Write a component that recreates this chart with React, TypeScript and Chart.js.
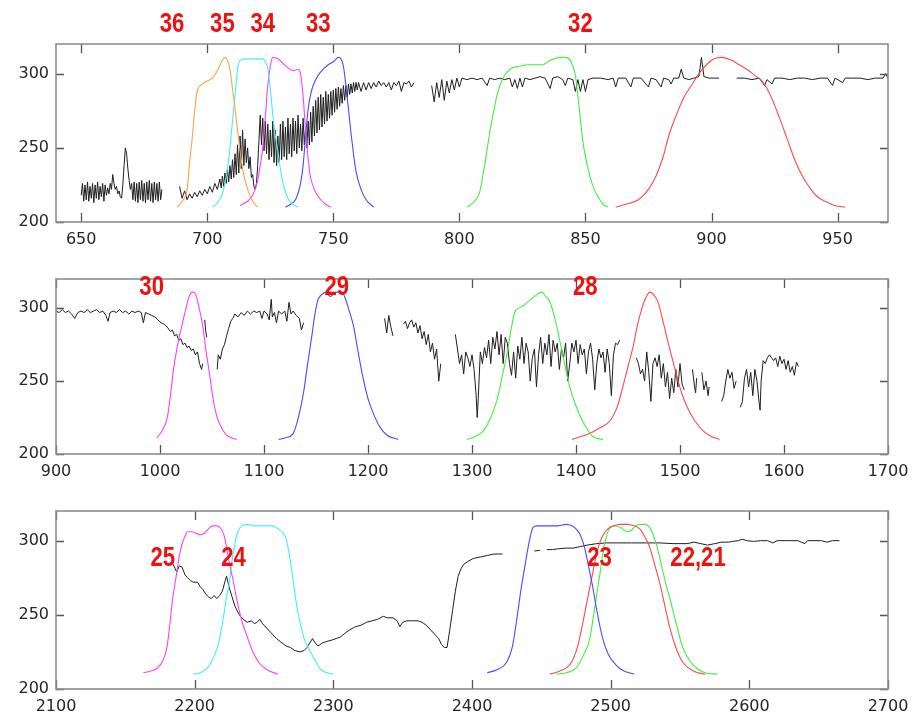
import React, { useEffect, useRef } from 'react';
import { Chart, registerables } from 'chart.js';

Chart.register(...registerables);

type Pt = [number, number | null];

// ---------------- Panel 1 (650-970) ----------------
const p1Spectrum: Pt[] = [
  [650, 218], [650.5, 226], [651, 214], [651.5, 225], [652, 215], [652.5, 227], [653, 214], [653.5, 224], [654, 216], [654.5, 226],
  [655, 213], [655.5, 225], [656, 216], [656.5, 227], [657, 215], [657.5, 224], [658, 217], [658.5, 226], [659, 214], [659.5, 225],
  [660, 218], [660.5, 223], [661, 219], [661.5, 226], [662, 222], [662.5, 232], [663, 226], [663.5, 222], [664, 224], [664.5, 219],
  [665, 221], [665.5, 217], [666, 216], [666.5, 225], [667, 238], [667.5, 250], [668, 246], [668.5, 236], [669, 228], [669.5, 222],
  [670, 226], [670.5, 215], [671, 227], [671.5, 214], [672, 226], [672.5, 213], [673, 227], [673.5, 215], [674, 228], [674.5, 214],
  [675, 226], [675.5, 213], [676, 227], [676.5, 215], [677, 228], [677.5, 214], [678, 226], [678.5, 213], [679, 227], [679.5, 215],
  [680, 226], [680.5, 214], [681, 227], [681.5, 215], [682, 222], [685, null],
  [689, 224], [690, 216], [691, 221], [692, 215], [693, 219], [694, 216], [695, 220], [696, 217], [697, 221], [698, 218],
  [699, 222], [700, 219], [701, 224], [702, 220], [703, 226], [704, 222],
  [705, 229], [705.5, 223], [706, 231], [706.5, 224], [707, 233], [707.5, 226], [708, 236], [708.5, 227], [709, 238], [709.5, 229],
  [710, 242], [710.5, 230], [711, 246], [711.5, 232], [712, 252], [712.5, 233], [713, 258], [713.5, 236], [714, 262], [714.5, 238],
  [715, 256], [715.5, 240], [716, 250], [716.5, 236], [717, 244], [717.5, 230], [718, 232], [718.5, 224], [719, 222], [719.5, 226],
  [720, 238], [720.5, 255], [721, 272], [721.5, 252], [722, 270], [722.5, 248], [723, 268], [723.5, 246], [724, 266], [724.5, 242],
  [725, 262], [725.5, 244], [726, 268], [726.5, 240], [727, 262], [727.5, 238], [728, 258], [728.5, 240], [729, 266], [729.5, 242],
  [730, 268], [730.5, 244], [731, 264], [731.5, 242], [732, 270], [732.5, 246], [733, 266], [733.5, 244], [734, 270], [734.5, 248],
  [735, 268], [735.5, 246], [736, 272], [736.5, 250], [737, 266], [737.5, 248], [738, 270], [738.5, 252], [739, 264], [739.5, 250],
  [740, 268], [740.5, 252], [741, 274], [741.5, 254], [742, 278], [742.5, 258], [743, 282], [743.5, 260], [744, 284], [744.5, 262],
  [745, 286], [745.5, 264], [746, 284], [746.5, 266], [747, 288], [747.5, 268], [748, 286], [748.5, 270], [749, 288], [749.5, 272],
  [750, 289], [750.5, 274], [751, 290], [751.5, 276], [752, 291], [752.5, 278], [753, 290], [753.5, 280], [754, 292], [754.5, 282],
  [755, 292], [755.5, 284], [756, 293], [756.5, 286], [757, 293], [757.5, 287], [758, 294], [758.5, 288], [759, 294], [759.5, 289],
  [760, 294], [761, 288], [762, 294], [763, 289], [764, 294], [765, 290], [766, 294], [767, 291], [768, 295], [769, 292],
  [770, 294], [771, 291], [772, 294], [773, 289], [774, 294], [775, 292], [776, 295], [777, 288], [778, 294], [779, 293],
  [780, 295], [781, 291], [782, 294], [785, null],
  [789, 292], [790, 281], [791, 294], [792, 284], [793, 296], [794, 282], [795, 295], [796, 287], [797, 296], [798, 289],
  [799, 297], [800, 291], [801, 297], [803, 296], [805, 297], [807, 296], [809, 297], [811, 292], [812, 297], [814, 296],
  [816, 297], [818, 296], [820, 297], [821, 291], [822, 296], [823, 290], [824, 297], [825, 291], [826, 297], [828, 296],
  [830, 297], [832, 298], [834, 297], [836, 290], [837, 297], [839, 298], [841, 296], [842, 292], [843, 297], [845, 296],
  [846, 288], [847, 296], [848, 288], [849, 296], [850, 288], [851, 296], [853, 297], [856, 297], [859, 296], [861, 297],
  [862, 291], [863, 297], [866, 297], [868, 291], [869, 297], [872, 297], [875, 291], [876, 297], [878, 296], [880, 291],
  [881, 297], [883, 296], [884, 293], [885, 297], [887, 297], [888, 303], [889, 297], [891, 296], [893, 297], [895, 298],
  [896, 311], [897, 298], [899, 297], [901, 297], [903, 297], [906, null],
  [910, 297], [913, 297], [916, 296], [919, 297], [921, 292], [922, 296], [924, 293], [925, 297], [928, 297], [931, 296],
  [934, 297], [937, 297], [940, 296], [943, 297], [946, 297], [948, 292], [949, 297], [952, 294], [953, 297], [956, 297],
  [959, 297], [962, 296], [965, 297], [968, 297], [969, 300], [970, 297],
];
const p1Band36: Pt[] = [[688, 210], [690, 214], [692, 222], [693, 240], [694, 256], [695, 275], [696, 288], [698, 293], [700, 295], [702, 297], [704, 302], [706, 309], [707, 311], [708, 309], [709, 303], [710, 290], [711, 277], [712, 262], [714, 236], [716, 222], [718, 214], [720, 210]];
const p1Band35: Pt[] = [[702, 210], [704, 213], [706, 219], [708, 236], [709, 250], [710, 268], [711, 285], [712, 303], [713, 309], [715, 310], [720, 310], [722, 310], [723, 308], [724, 304], [725, 290], [726, 272], [727, 258], [728, 248], [729, 236], [730, 226], [732, 216], [734, 212], [736, 210]];
const p1Band34: Pt[] = [[713, 211], [716, 214], [718, 218], [720, 228], [721, 238], [722, 250], [723, 270], [724, 292], [725, 305], [726, 311], [728, 310], [730, 307], [732, 304], [734, 302], [736, 303], [737, 300], [738, 285], [739, 262], [740, 243], [741, 230], [743, 220], [745, 215], [747, 212], [749, 210]];
const p1Band33: Pt[] = [[731, 210], [733, 212], [735, 215], [737, 226], [738, 238], [739, 258], [740, 276], [741, 286], [742, 292], [744, 299], [746, 303], [748, 306], [750, 308], [752, 311], [753, 310], [754, 305], [755, 292], [756, 276], [757, 260], [758, 246], [759, 234], [761, 222], [763, 215], [766, 210]];
const p1Band32: Pt[] = [[803, 210], [806, 214], [808, 220], [810, 238], [812, 260], [814, 278], [815, 286], [817, 296], [820, 303], [824, 305], [828, 306], [833, 306], [836, 309], [840, 311], [842, 311], [844, 309], [845, 305], [846, 299], [847, 285], [848, 269], [849, 254], [851, 236], [853, 224], [855, 217], [857, 212], [859, 210]];
const p1Band31: Pt[] = [[862, 210], [866, 212], [871, 215], [875, 222], [878, 231], [881, 245], [883, 258], [886, 272], [889, 284], [892, 292], [895, 300], [898, 306], [901, 310], [904, 311], [908, 309], [911, 306], [914, 303], [917, 299], [920, 295], [922, 290], [924, 283], [927, 270], [930, 256], [933, 242], [936, 231], [939, 223], [942, 217], [945, 214], [949, 211], [953, 210]];
const p1LabelText = ['36', '35', '34', '33', '32'];
const p1LabelAt = [686, 706, 722, 744, 848];

// ---------------- Panel 2 (900-1700) ----------------
const p2Spectrum: Pt[] = [
  [900, 298], [903, 297], [906, 299], [909, 297], [912, 298], [915, 296], [918, 293], [921, 297], [924, 298], [927, 297],
  [930, 299], [933, 297], [936, 298], [939, 299], [942, 297], [945, 298], [948, 295], [950, 291], [952, 297], [955, 298],
  [958, 297], [961, 299], [964, 297], [967, 298], [970, 296], [973, 298], [976, 297], [979, 298], [982, 297], [984, 290],
  [986, 297], [989, 296], [992, 295], [995, 294], [998, 292], [1001, 290], [1004, 289], [1007, 287], [1010, 284], [1012, 285],
  [1014, 281], [1016, 282], [1018, 278], [1020, 279], [1022, 275], [1024, 276], [1026, 273], [1028, 274], [1030, 271], [1032, 272],
  [1034, 268], [1036, 270], [1038, 262], [1040, 258], [1041, 262], [1042, null],
  [1043, 292], [1044, 284], [1045, 280], [1050, null],
  [1055, 258], [1056, 268], [1058, 265], [1060, 272], [1062, 275], [1064, 281], [1066, 286], [1068, 291], [1070, 293], [1072, 296],
  [1075, 294], [1078, 297], [1081, 295], [1084, 298], [1087, 296], [1090, 298], [1093, 297], [1096, 298], [1098, 293], [1100, 298],
  [1103, 296], [1105, 292], [1107, 306], [1108, 294], [1110, 297], [1112, 290], [1114, 298], [1117, 296], [1120, 298], [1122, 291],
  [1124, 304], [1126, 296], [1128, 298], [1131, 295], [1134, 293], [1136, 285], [1138, 290], [1150, null],
  [1216, 293], [1218, 283], [1220, 295], [1222, 287], [1224, 281], [1228, null],
  [1234, 289], [1236, 291], [1238, 286], [1240, 290], [1242, 292], [1244, 287], [1246, 290], [1248, 283], [1250, 288], [1252, 279],
  [1254, 284], [1256, 275], [1258, 282], [1260, 270], [1262, 276], [1264, 265], [1266, 272], [1268, 250], [1270, 262], [1276, null],
  [1284, 282], [1286, 272], [1288, 262], [1290, 268], [1292, 255], [1294, 270], [1296, 266], [1298, 260], [1300, 268], [1302, 258],
  [1304, 240], [1305, 225], [1306, 238], [1308, 270], [1310, 262], [1312, 273], [1314, 266], [1316, 278], [1318, 262], [1320, 280],
  [1322, 272], [1324, 284], [1326, 268], [1328, 282], [1330, 262], [1332, 280], [1334, 276], [1336, 262], [1338, 254], [1340, 270],
  [1342, 252], [1344, 274], [1346, 265], [1348, 280], [1350, 262], [1352, 276], [1354, 270], [1356, 250], [1358, 266], [1360, 272],
  [1362, 246], [1364, 268], [1366, 280], [1368, 262], [1370, 276], [1372, 268], [1374, 282], [1376, 260], [1378, 278], [1380, 270],
  [1382, 276], [1384, 258], [1386, 272], [1388, 266], [1390, 276], [1392, 250], [1394, 262], [1396, 276], [1398, 270], [1400, 278],
  [1402, 262], [1404, 275], [1406, 268], [1408, 272], [1410, 255], [1412, 270], [1414, 276], [1416, 265], [1418, 244], [1420, 262],
  [1422, 272], [1424, 266], [1426, 270], [1428, 256], [1430, 272], [1432, 262], [1434, 240], [1436, 268], [1438, 276], [1440, 275],
  [1442, 278], [1450, null],
  [1458, 266], [1460, 262], [1462, 255], [1464, 258], [1466, 250], [1468, 270], [1470, 256], [1472, 236], [1474, 262], [1476, 266],
  [1478, 260], [1480, 268], [1482, 252], [1484, 262], [1486, 246], [1488, 256], [1490, 238], [1492, 252], [1494, 242], [1496, 258],
  [1498, 246], [1500, 262], [1502, 248], [1504, 244], [1508, null],
  [1512, 258], [1514, 246], [1515, 242], [1516, 252], [1518, null],
  [1521, 256], [1523, 244], [1525, 250], [1527, 240], [1528, 246], [1534, null],
  [1540, 236], [1542, 240], [1544, 250], [1546, 258], [1548, 252], [1550, 256], [1552, 245], [1554, 250], [1556, null],
  [1558, 232], [1560, 236], [1562, 252], [1564, 258], [1566, 246], [1568, 256], [1570, 240], [1572, 258], [1574, 250], [1576, 236],
  [1577, 230], [1578, 250], [1580, 264], [1582, 262], [1584, 266], [1586, 268], [1588, 266], [1590, 264], [1592, 266], [1594, 260],
  [1596, 267], [1598, 262], [1600, 265], [1602, 258], [1604, 264], [1606, 256], [1608, 260], [1610, 254], [1612, 263], [1614, 260],
];
const p2Band30: Pt[] = [[997, 211], [1002, 216], [1007, 225], [1010, 240], [1013, 258], [1017, 275], [1021, 288], [1025, 300], [1028, 308], [1031, 311], [1034, 310], [1037, 302], [1041, 288], [1044, 272], [1048, 253], [1051, 238], [1055, 225], [1060, 217], [1064, 213], [1069, 211], [1074, 210]];
const p2Band29: Pt[] = [[1114, 210], [1120, 211], [1128, 214], [1133, 225], [1138, 242], [1142, 262], [1146, 281], [1149, 296], [1152, 306], [1155, 309], [1159, 311], [1162, 309], [1164, 308], [1167, 310], [1170, 311], [1175, 311], [1178, 307], [1182, 298], [1186, 288], [1190, 272], [1195, 253], [1200, 238], [1205, 228], [1211, 219], [1218, 213], [1229, 210]];
const p2Band28: Pt[] = [[1295, 210], [1303, 212], [1311, 216], [1318, 225], [1324, 237], [1329, 253], [1334, 270], [1338, 287], [1341, 297], [1345, 300], [1350, 302], [1355, 305], [1360, 308], [1367, 311], [1371, 308], [1375, 304], [1380, 292], [1384, 279], [1389, 262], [1394, 246], [1399, 235], [1404, 226], [1410, 218], [1416, 212], [1426, 210]];
const p2Band27: Pt[] = [[1396, 210], [1405, 212], [1413, 214], [1423, 218], [1433, 223], [1440, 233], [1445, 246], [1450, 260], [1455, 274], [1459, 288], [1463, 299], [1467, 307], [1471, 311], [1475, 309], [1479, 304], [1483, 293], [1487, 281], [1492, 267], [1497, 253], [1502, 241], [1507, 232], [1514, 223], [1522, 216], [1530, 212], [1538, 210]];
const p2LabelText = ['30', '29', '28'];
const p2LabelAt = [992, 1170, 1409];

// ---------------- Panel 3 (2100-2700) ----------------
const p3Spectrum: Pt[] = [
  [2184, 285], [2186, 281], [2187, 279], [2189, 283], [2191, 282], [2193, 277], [2195, 275], [2197, 273], [2199, 272], [2202, 272],
  [2204, 269], [2206, 267], [2208, 264], [2210, 262], [2212, 261], [2214, 263], [2216, 261], [2218, 263], [2220, 266], [2222, 273],
  [2223, 276], [2224, 272], [2225, 268], [2227, 262], [2229, 256], [2231, 252], [2233, 249], [2235, 247], [2238, 245], [2241, 246],
  [2243, 244], [2245, 245], [2247, 247], [2249, 244], [2252, 241], [2255, 238], [2259, 234], [2263, 231], [2266, 229], [2269, 228],
  [2272, 226], [2276, 225], [2279, 226], [2281, 228], [2283, 231], [2285, 234], [2287, 231], [2289, 229], [2292, 231], [2295, 232],
  [2299, 233], [2302, 234], [2305, 235], [2309, 238], [2312, 240], [2316, 242], [2320, 243], [2324, 245], [2328, 246], [2332, 247],
  [2336, 249], [2339, 248], [2343, 248], [2346, 246], [2348, 242], [2350, 245], [2353, 246], [2357, 246], [2361, 246], [2364, 245],
  [2367, 243], [2370, 240], [2373, 237], [2376, 234], [2378, 230], [2380, 228], [2382, 228], [2384, 240], [2386, 253], [2388, 266],
  [2390, 276], [2392, 281], [2394, 284], [2397, 286], [2401, 288], [2406, 289], [2411, 290], [2416, 291], [2422, 291], [2430, null],
  [2445, 293], [2449, 293.5], [2451, null],
  [2454, 294], [2458, 294], [2462, 294.5], [2468, 295], [2473, 295], [2478, 296], [2483, 297], [2490, 298], [2497, 298.5], [2505, 298.5],
  [2515, 298.5], [2525, 298.5], [2535, 298.5], [2545, 298], [2555, 298], [2560, 299], [2565, 298], [2570, 297], [2575, 298], [2580, 299],
  [2585, 299], [2588, 299.5], [2592, 300], [2595, 301], [2598, 300], [2603, 299.5], [2608, 300], [2613, 300], [2617, 298.5], [2620, 300],
  [2625, 300], [2630, 300], [2635, 300], [2640, 298], [2642, 300], [2648, 300], [2652, 300], [2656, 299], [2660, 300], [2665, 300],
];
const p3Band25: Pt[] = [[2163, 211], [2168, 212], [2173, 214], [2177, 219], [2180, 228], [2182, 243], [2184, 260], [2187, 278], [2189, 290], [2191, 298], [2193, 303], [2195, 306], [2198, 306], [2201, 305], [2204, 304], [2207, 305], [2210, 308], [2213, 310], [2216, 310], [2219, 308], [2221, 304], [2223, 296], [2225, 285], [2228, 272], [2230, 262], [2234, 246], [2238, 235], [2242, 225], [2247, 217], [2252, 213], [2260, 210]];
const p3Band24: Pt[] = [[2199, 210], [2204, 211], [2209, 214], [2213, 220], [2216, 227], [2218, 234], [2221, 250], [2223, 262], [2225, 272], [2227, 287], [2229, 298], [2231, 306], [2234, 310], [2238, 311], [2243, 310], [2250, 310], [2256, 310], [2260, 308], [2264, 305], [2266, 301], [2268, 292], [2270, 280], [2272, 266], [2274, 254], [2276, 245], [2279, 234], [2283, 226], [2287, 219], [2291, 213], [2300, 210]];
const p3Band23: Pt[] = [[2411, 211], [2418, 213], [2425, 218], [2429, 228], [2432, 245], [2435, 265], [2438, 282], [2441, 298], [2444, 309], [2447, 310], [2456, 310], [2462, 310], [2468, 311], [2472, 310], [2475, 308], [2478, 304], [2481, 296], [2484, 283], [2487, 269], [2490, 253], [2494, 235], [2498, 224], [2504, 216], [2510, 212], [2517, 210]];
const p3Band22: Pt[] = [[2456, 210], [2463, 212], [2471, 217], [2476, 228], [2480, 245], [2484, 264], [2487, 278], [2490, 292], [2494, 303], [2498, 308], [2502, 310], [2507, 311], [2512, 311], [2517, 310], [2521, 308], [2525, 302], [2528, 296], [2532, 283], [2536, 269], [2540, 252], [2543, 240], [2547, 228], [2552, 218], [2560, 212], [2568, 210]];
const p3Band21: Pt[] = [[2461, 210], [2468, 211], [2475, 214], [2480, 222], [2485, 234], [2488, 252], [2492, 276], [2495, 295], [2499, 308], [2503, 310], [2507, 309], [2512, 306], [2515, 307], [2518, 310], [2522, 311], [2525, 311], [2528, 309], [2531, 303], [2534, 294], [2537, 282], [2540, 270], [2543, 260], [2547, 245], [2552, 228], [2557, 219], [2562, 214], [2568, 211], [2577, 210]];
const p3LabelText = ['25', '24', '23', '22,21'];
const p3LabelAt = [2177, 2228, 2492, 2563];

// ---------------- styling ----------------
const C_ORANGE = '#ffa448';
const C_CYAN = '#3ff2f2';
const C_MAGENTA = '#ff40ff';
const C_BLUE = '#4a4aff';
const C_GREEN = '#44ee44';
const C_RED = '#ff4a4a';
const C_SPEC = '#1e1e1e';

const toXY = (pts: Pt[]) => pts.map(([x, y]) => ({ x, y }));

const framePlugin = {
  id: 'frame',
  afterDraw(chart: any, _args: any, opts: any) {
    const { ctx, chartArea: a, scales } = chart;
    const xs = scales.x;
    const ys = scales.y;
    ctx.save();
    ctx.strokeStyle = '#555555';
    ctx.lineWidth = 1.3;
    ctx.beginPath();
    xs.ticks.forEach((t: any) => {
      const px = Math.round(xs.getPixelForValue(t.value)) + 0.5;
      ctx.moveTo(px, a.bottom);
      ctx.lineTo(px, a.bottom - 9);
      ctx.moveTo(px, a.top);
      ctx.lineTo(px, a.top + 9);
    });
    ys.ticks.forEach((t: any) => {
      const py = Math.round(ys.getPixelForValue(t.value)) + 0.5;
      ctx.moveTo(a.left, py);
      ctx.lineTo(a.left + 8, py);
      ctx.moveTo(a.right, py);
      ctx.lineTo(a.right - 8, py);
    });
    ctx.stroke();
    ctx.strokeStyle = '#8e8e8e';
    ctx.lineWidth = 1.6;
    ctx.strokeRect(a.left, a.top, a.right - a.left, a.bottom - a.top);

    const texts: string[] = opts.texts || [];
    const at: number[] = opts.at || [];
    const ly = ys.getPixelForValue(opts.labelY);
    ctx.fillStyle = '#ee1111';
    ctx.font = 'bold 27px "Liberation Sans", Arial, sans-serif';
    ctx.textAlign = 'center';
    ctx.textBaseline = 'middle';
    texts.forEach((t, i) => {
      const lx = xs.getPixelForValue(at[i]);
      ctx.save();
      ctx.translate(lx, ly);
      ctx.scale(0.82, 1);
      ctx.fillText(t, 0, 0);
      ctx.restore();
    });
    ctx.restore();
  },
};

interface PanelCfg {
  spectrum: Pt[];
  bands: { pts: Pt[]; color: string }[];
  xMin: number;
  xMax: number;
  xStep: number;
  padTop: number;
  xAxisH: number;
  texts: string[];
  at: number[];
  labelY: number;
}

function makeChart(canvas: HTMLCanvasElement, p: PanelCfg) {
  const tickFont = { family: '"DejaVu Sans", sans-serif', size: 16 };
  const datasets: any[] = p.bands.map((b) => ({
    data: toXY(b.pts),
    borderColor: b.color,
    borderWidth: 1.1,
    pointRadius: 0,
    cubicInterpolationMode: 'monotone',
    fill: false,
    order: 0,
  }));
  datasets.push({
    data: toXY(p.spectrum),
    borderColor: C_SPEC,
    borderWidth: 1,
    pointRadius: 0,
    tension: 0,
    spanGaps: false,
    fill: false,
    order: 1,
  });
  return new Chart(canvas, {
    type: 'line',
    data: { datasets },
    plugins: [framePlugin as any],
    options: {
      animation: false,
      responsive: false,
      maintainAspectRatio: false,
      layout: { padding: { top: p.padTop, right: 24, left: 0, bottom: 0 } },
      plugins: {
        legend: { display: false },
        tooltip: { enabled: false },
        frame: { texts: p.texts, at: p.at, labelY: p.labelY },
      } as any,
      scales: {
        x: {
          type: 'linear',
          min: p.xMin,
          max: p.xMax,
          grid: { display: false, drawTicks: false },
          border: { display: false },
          ticks: {
            stepSize: p.xStep,
            includeBounds: false,
            autoSkip: false,
            maxRotation: 0,
            padding: 8,
            color: '#262626',
            font: tickFont,
            callback: (v: any) => String(v),
          },
          afterFit: (s: any) => {
            s.height = p.xAxisH;
            s.paddingLeft = 0;
            s.paddingRight = 0;
          },
        },
        y: {
          type: 'linear',
          min: 200,
          max: 320,
          grid: { display: false, drawTicks: false },
          border: { display: false },
          ticks: {
            stepSize: 50,
            includeBounds: false,
            padding: 7,
            color: '#262626',
            font: tickFont,
            callback: (v: any) => String(v),
          },
          afterFit: (s: any) => {
            s.width = 56;
            s.paddingTop = 0;
            s.paddingBottom = 0;
          },
        },
      } as any,
    },
  });
}

const panels: PanelCfg[] = [
  {
    spectrum: p1Spectrum,
    bands: [
      { pts: p1Band36, color: C_ORANGE },
      { pts: p1Band35, color: C_CYAN },
      { pts: p1Band34, color: C_MAGENTA },
      { pts: p1Band33, color: C_BLUE },
      { pts: p1Band32, color: C_GREEN },
      { pts: p1Band31, color: C_RED },
    ],
    xMin: 640, xMax: 970, xStep: 50, padTop: 44, xAxisH: 30,
    texts: p1LabelText, at: p1LabelAt, labelY: 333,
  },
  {
    spectrum: p2Spectrum,
    bands: [
      { pts: p2Band30, color: C_MAGENTA },
      { pts: p2Band29, color: C_BLUE },
      { pts: p2Band28, color: C_GREEN },
      { pts: p2Band27, color: C_RED },
    ],
    xMin: 900, xMax: 1700, xStep: 100, padTop: 27, xAxisH: 28,
    texts: p2LabelText, at: p2LabelAt, labelY: 314,
  },
  {
    spectrum: p3Spectrum,
    bands: [
      { pts: p3Band25, color: C_MAGENTA },
      { pts: p3Band24, color: C_CYAN },
      { pts: p3Band23, color: C_BLUE },
      { pts: p3Band22, color: C_RED },
      { pts: p3Band21, color: C_GREEN },
    ],
    xMin: 2100, xMax: 2700, xStep: 100, padTop: 29, xAxisH: 26,
    texts: p3LabelText, at: p3LabelAt, labelY: 288,
  },
];

const canvasTops = [0, 252, 482];
const canvasHeights = [252, 230, 233];

export default function App() {
  const r0 = useRef<HTMLCanvasElement>(null);
  const r1 = useRef<HTMLCanvasElement>(null);
  const r2 = useRef<HTMLCanvasElement>(null);

  useEffect(() => {
    const refs = [r0, r1, r2];
    const charts = refs.map((r, i) => makeChart(r.current as HTMLCanvasElement, panels[i]));
    return () => charts.forEach((c) => c.destroy());
  }, []);

  const refs = [r0, r1, r2];
  return (
    <div style={{ position: 'absolute', left: 0, top: 0, width: 912, height: 715, background: '#ffffff', overflow: 'hidden' }}>
      {refs.map((r, i) => (
        <canvas
          key={i}
          ref={r}
          width={912}
          height={canvasHeights[i]}
          style={{ position: 'absolute', left: 0, top: canvasTops[i], width: 912, height: canvasHeights[i] }}
        />
      ))}
    </div>
  );
}
